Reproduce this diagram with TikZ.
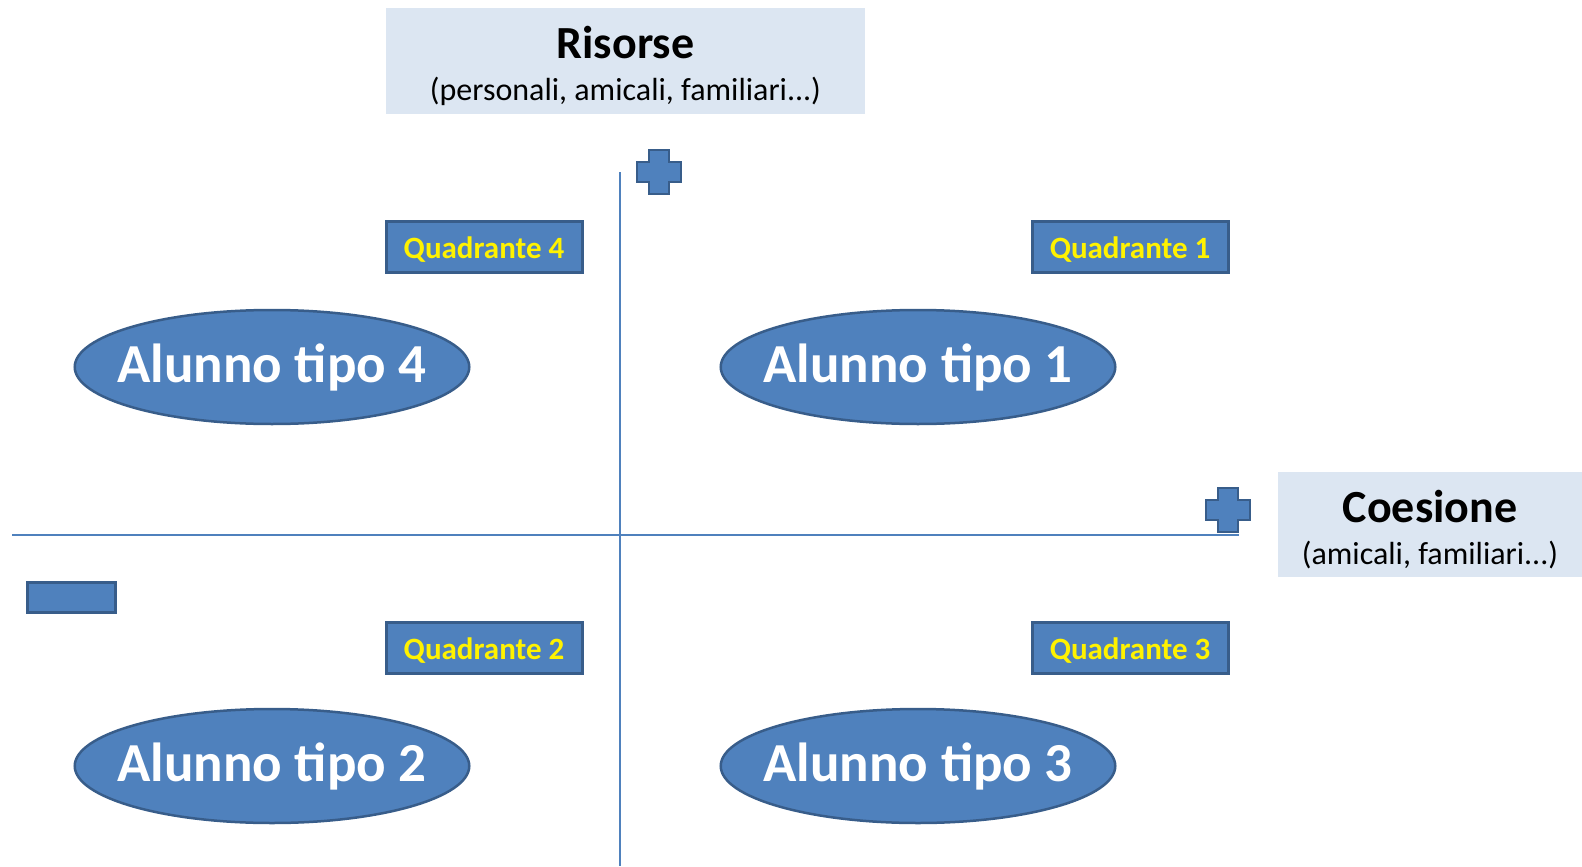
\documentclass[tikz,border=0pt]{standalone}
\usepackage{fontspec}
\setmainfont{Carlito}
\usetikzlibrary{shapes.geometric}

\definecolor{blu}{HTML}{4F81BD}
\definecolor{bordo}{HTML}{385D8A}
\definecolor{celeste}{HTML}{DCE6F2}

\tikzset{
  alunno/.style={ellipse, fill=blu, draw=bordo, line width=2.5pt,
    inner xsep=-15pt, inner ysep=0pt,
    minimum width=390pt, minimum height=114pt, text=white,
    font=\fontsize{55}{60}\selectfont\bfseries},
  quadrante/.style={rectangle, fill=blu, draw=bordo, line width=3pt, inner sep=0pt,
    minimum width=196pt, minimum height=51pt, text=yellow,
    text height=24pt, text depth=1pt,
    font=\fontsize{31}{34}\selectfont\bfseries},
  titolo/.style={rectangle, fill=celeste, inner sep=0pt, align=center,
    font=\fontsize{32}{42}\selectfont},
  asse/.style={draw=blu, line width=1.5pt},
  piu/.pic={\fill[blu, draw=bordo, line width=1.5pt]
    (-10,-22) -- (10,-22) -- (10,-10) -- (22,-10) -- (22,10) -- (10,10) -- (10,22)
    -- (-10,22) -- (-10,10) -- (-22,10) -- (-22,-10) -- (-10,-10) -- cycle;}
}

\begin{document}
\begin{tikzpicture}[x=1pt, y=-1pt]
  %\draw[help lines] (0,0) grid (1582,867);
  \useasboundingbox (0,0) rectangle (1582,867);

  % assi
  \coordinate (alto) at (620,172);
  \coordinate (basso) at (620,866);
  \coordinate (sx) at (12,535);
  \coordinate (dx) at (1239,535);
  \draw[asse] (alto) -- (basso);
  \draw[asse] (sx) -- (dx);

  % titoli degli assi
  \node[titolo, minimum width=479pt, minimum height=106pt] (risorse) at (625.5,61)
    {\rule{0pt}{43pt}{\fontsize{46}{50}\selectfont\bfseries Risorse}\\
     (personali, amicali, familiari...)};
  \node[titolo, minimum width=304pt, minimum height=105pt] (coesione) at (1430,524.5)
    {\rule{0pt}{43pt}{\fontsize{46}{50}\selectfont\bfseries Coesione}\\
     (amicali, familiari...)};

  % segni
  \pic at (659,172) {piu};
  \pic at (1228,510) {piu};
  \node[rectangle, fill=blu, draw=bordo, line width=3pt, inner sep=0pt,
    minimum width=88pt, minimum height=30pt] (meno) at (71,597.5) {};

  % quadranti
  \node[quadrante] (q4) at (484,246.5) {Quadrante 4};
  \node[quadrante] (q1) at (1130,246.5) {Quadrante 1};
  \node[quadrante] (q2) at (484,647.5) {Quadrante 2};
  \node[quadrante] (q3) at (1130,647.5) {Quadrante 3};

  % alunni
  \node[alunno] (a4) at (272,367) {Alunno tipo 4};
  \node[alunno] (a1) at (918,367) {Alunno tipo 1};
  \node[alunno] (a2) at (272,766) {Alunno tipo 2};
  \node[alunno] (a3) at (918,766) {Alunno tipo 3};
\end{tikzpicture}
\end{document}
